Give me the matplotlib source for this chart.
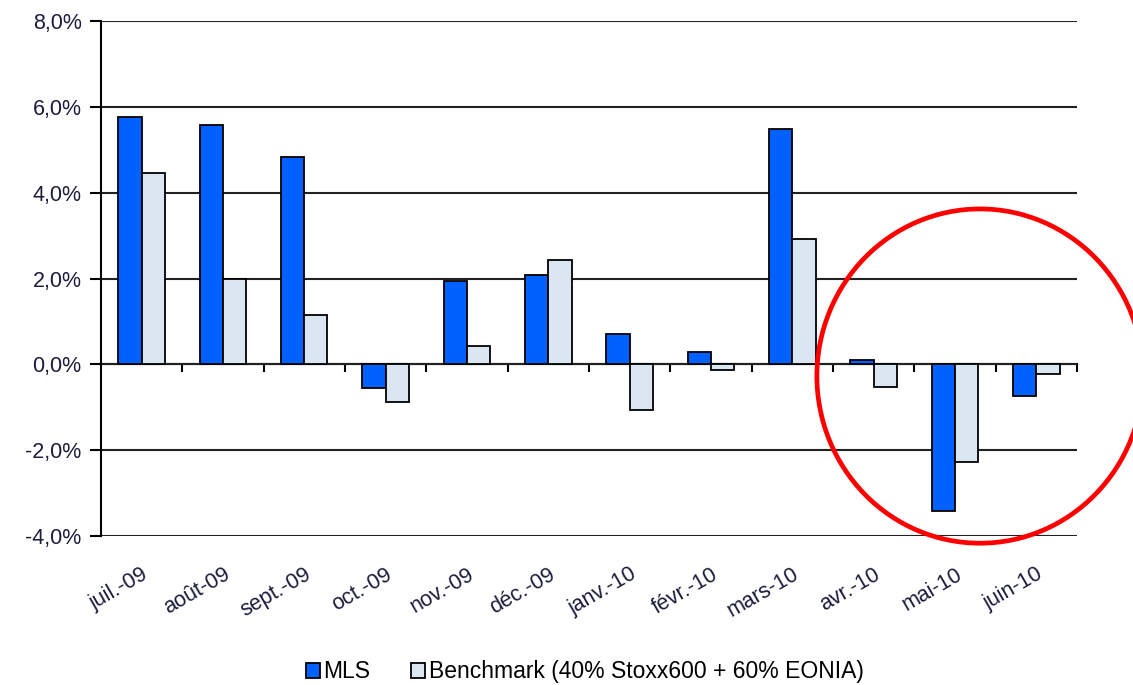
import numpy as np
import matplotlib
matplotlib.use("Agg")
import matplotlib.pyplot as plt
from matplotlib.patches import Ellipse
from matplotlib.ticker import FuncFormatter

# -----------------------------
# Data (monthly performance, %)
# -----------------------------
months = ["juil.-09", "août-09", "sept.-09", "oct.-09", "nov.-09", "déc.-09",
          "janv.-10", "févr.-10", "mars-10", "avr.-10", "mai-10", "juin-10"]
mls = [5.77, 5.58, 4.84, -0.56, 1.95, 2.09, 0.70, 0.28, 5.49, 0.09, -3.42, -0.74]
benchmark = [4.47, 2.00, 1.14, -0.88, 0.42, 2.44, -1.07, -0.14, 2.93, -0.53, -2.28, -0.23]
series_names = ["MLS", "Benchmark (40% Stoxx600 + 60% EONIA)"]

plt.rcParams['font.family'] = ['Liberation Sans', 'DejaVu Sans']

# -----------------------------
# Plot
# -----------------------------
fig = plt.figure(figsize=(11.33, 6.85), dpi=100)
ax = fig.add_axes([0.0891, 0.2175, 0.8615, 0.7518])

x = np.arange(len(months))
w = 0.285
ax.bar(x - w/2, mls, w, color='#0061FF', edgecolor='black', linewidth=1.3,
       label=series_names[0], zorder=3)
ax.bar(x + w/2, benchmark, w, color='#DCE6F2', edgecolor='black', linewidth=1.3,
       label=series_names[1], zorder=3)

ax.set_xlim(-0.5, len(months) - 0.5)
ax.set_ylim(-4, 8)
ax.set_yticks(np.arange(-4, 8.1, 2))
ax.yaxis.set_major_formatter(FuncFormatter(lambda v, p: f"{v:.1f}%".replace('.', ',')))
ax.grid(axis='y', color='#222222', linewidth=1.5, zorder=0)
ax.tick_params(axis='y', direction='out', length=8, width=1.5, labelsize=15.5,
               labelcolor='#1c1c3c', pad=6)

for s in ['top', 'right', 'bottom']:
    ax.spines[s].set_visible(False)
ax.spines['left'].set_linewidth(1.5)

# category labels at the bottom
ax.set_xticks(x)
ax.set_xticklabels(months, rotation=30, ha='right', rotation_mode='anchor',
                   fontsize=15.5, color='#1c1c3c')
ax.tick_params(axis='x', length=0, pad=20)

# zero line with category separators
zero = ax.secondary_xaxis(4 / 12)
zero.set_xticks(np.arange(0.5, len(months), 1.0))
zero.tick_params(axis='x', direction='out', length=6, width=1.5, labelbottom=False)
zero.spines['bottom'].set_linewidth(1.5)

# legend
fig.legend(loc='center', bbox_to_anchor=(0.516, 0.019), ncol=2, frameon=False,
           fontsize=16.5, handlelength=0.6, handleheight=0.6, handletextpad=0.15,
           columnspacing=1.8)

# red highlight circle
fig.add_artist(Ellipse((0.865, 0.451), 0.288, 0.488, transform=fig.transFigure,
                       fill=False, edgecolor='#FF0000', linewidth=3.4))

plt.savefig("out.png", dpi=100)
